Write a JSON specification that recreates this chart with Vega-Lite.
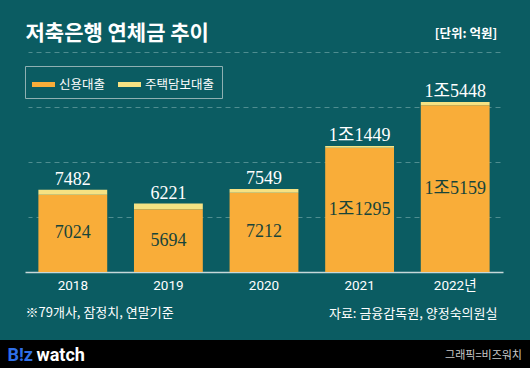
{
  "$schema": "https://vega.github.io/schema/vega-lite/v6.json",
  "width": 530,
  "height": 340,
  "autosize": {"type": "none"},
  "padding": {"left": 0, "top": 0, "right": 0, "bottom": 28},
  "background": "#000000",
  "config": {
    "view": {"fill": "#0b5c62", "stroke": null},
    "axis": {"labelFont": "Noto Sans CJK KR", "titleFont": "Noto Sans CJK KR"}
  },
  "title": {
    "text": "그래픽=비즈워치", "orient": "bottom", "anchor": "end", "frame": "group",
    "offset": -4, "dx": -8, "dy": -10, "color": "#c8c8c8", "fontSize": 11, "fontWeight": "normal",
    "font": "Noto Sans CJK KR"
  },
  "datasets": {
    "loans": [
      {"year": "2018", "type": "신용대출", "value": 7024, "label": "7024"},
      {"year": "2018", "type": "주택담보대출", "value": 458, "label": ""},
      {"year": "2019", "type": "신용대출", "value": 5694, "label": "5694"},
      {"year": "2019", "type": "주택담보대출", "value": 527, "label": ""},
      {"year": "2020", "type": "신용대출", "value": 7212, "label": "7212"},
      {"year": "2020", "type": "주택담보대출", "value": 337, "label": ""},
      {"year": "2021", "type": "신용대출", "value": 11295, "label": "1조1295"},
      {"year": "2021", "type": "주택담보대출", "value": 154, "label": ""},
      {"year": "2022", "type": "신용대출", "value": 15159, "label": "1조5159"},
      {"year": "2022", "type": "주택담보대출", "value": 289, "label": ""}
    ],
    "totals": [
      {"year": "2018", "total": 7482, "label": "7482"},
      {"year": "2019", "total": 6221, "label": "6221"},
      {"year": "2020", "total": 7549, "label": "7549"},
      {"year": "2021", "total": 11449, "label": "1조1449"},
      {"year": "2022", "total": 15448, "label": "1조5448"}
    ]
  },
  "resolve": {"axis": {"x": "independent", "y": "independent"}},
  "layer": [
    {
      "data": {"name": "loans"},
      "mark": {"type": "bar"},
      "encoding": {
        "x": {
          "field": "year", "type": "nominal", "sort": null,
          "scale": {"type": "band", "range": [25, 503], "paddingInner": 0.28, "paddingOuter": 0.14},
          "axis": {
            "orient": "bottom", "offset": -68, "ticks": false, "domain": true,
            "domainColor": "#c7d8d9", "domainWidth": 1.5, "grid": false,
            "labelColor": "#ffffff", "labelFontSize": 13.5, "labelFont": "Roboto, Noto Sans CJK KR",
            "labelPadding": 6, "labelAngle": 0,
            "labelExpr": "datum.value == '2022' ? '2022년' : datum.value",
            "title": "B!z", "titleColor": "#2f6fe8", "titleFont": "Roboto", "titleFontSize": 18,
            "titleFontWeight": "bold", "titleX": 7, "titleY": 83, "titleAlign": "left",
            "titleBaseline": "middle", "titleAngle": 0
          }
        },
        "y": {
          "field": "value", "type": "quantitative", "stack": "zero",
          "scale": {"domain": [-6182, 24727], "nice": false, "zero": false},
          "axis": {
            "orient": "left", "values": [-3727],
            "grid": false, "ticks": false, "domain": false,
            "labelExpr": "'※79개사, 잠정치, 연말기준'",
            "labelAlign": "left", "labelBaseline": "middle", "labelPadding": -25,
            "labelColor": "#ffffff", "labelFontSize": 13, "labelFlush": false, "labelOverlap": false, "labelBound": false,
            "title": "watch", "titleColor": "#ffffff", "titleFont": "Roboto", "titleFontSize": 18,
            "titleFontWeight": "bold", "titleX": 36, "titleY": 355, "titleAlign": "left",
            "titleBaseline": "middle", "titleAngle": 0
          }
        },
        "color": {
          "field": "type", "type": "nominal",
          "scale": {"domain": ["신용대출", "주택담보대출"], "range": ["#f9ad39", "#f6e283"]},
          "legend": {
            "title": null, "orient": "none", "legendX": 25, "legendY": 66, "direction": "horizontal",
            "strokeColor": "#8fb0b2", "padding": 7,
            "symbolType": "M-1,-0.22H1V0.22H-1Z", "symbolSize": 529, "symbolStrokeWidth": 0,
            "labelColor": "#ffffff", "labelFont": "Noto Sans CJK KR", "labelFontSize": 12.5,
            "labelOffset": 4, "columnPadding": 12
          }
        },
        "order": {"field": "type", "sort": "ascending"}
      }
    },
    {
      "data": {"name": "loans"},
      "transform": [{"filter": "datum.type === '신용대출'"}],
      "mark": {"type": "text", "font": "Liberation Serif, Noto Sans CJK KR", "fontSize": 18, "color": "#17443a", "baseline": "middle"},
      "encoding": {
        "x": {"field": "year", "type": "nominal", "sort": null,
              "scale": {"type": "band", "range": [25, 503], "paddingInner": 0.28, "paddingOuter": 0.14}, "axis": null},
        "y": {"field": "value", "type": "quantitative", "stack": "zero", "bandPosition": 0.5,
              "scale": {"domain": [-6182, 24727], "nice": false, "zero": false}, "axis": null},
        "detail": {"field": "type", "type": "nominal"},
        "text": {"field": "label"}
      }
    },
    {
      "data": {"name": "totals"},
      "mark": {"type": "text", "font": "Liberation Serif, Noto Sans CJK KR", "fontSize": 18, "color": "#ffffff", "baseline": "alphabetic", "dy": -5},
      "encoding": {
        "x": {
          "field": "year", "type": "nominal", "sort": null,
          "scale": {"type": "band", "range": [25, 503], "paddingInner": 0.28, "paddingOuter": 0.14},
          "axis": {
            "orient": "top", "ticks": false, "domain": false, "grid": false,
            "labelExpr": "datum.value == '2022' ? '[단위: 억원]' : ''",
            "labelAlign": "right", "labelBaseline": "middle", "labelPadding": -33, "labelOffset": 42,
            "labelColor": "#ffffff", "labelFontSize": 12.5, "labelFontWeight": "bold", "labelAngle": 0,
            "labelOverlap": false, "labelBound": false,
            "title": "저축은행 연체금 추이", "titleColor": "#ffffff", "titleFontSize": 21, "titleFontWeight": "bold",
            "titleX": 25, "titleY": 33, "titleAlign": "left", "titleBaseline": "middle", "titleAngle": 0
          }
        },
        "y": {
          "field": "total", "type": "quantitative",
          "scale": {"domain": [-6182, 24727], "nice": false, "zero": false},
          "axis": {
            "orient": "right", "offset": -30, "zindex": 0,
            "values": [5000, 10000, 15000, 20000], "domain": false, "grid": false,
            "ticks": true, "tickSize": -472, "tickColor": "#4f8d90", "tickDash": [5, 4], "tickWidth": 1,
            "labels": false,
            "title": "자료: 금융감독원, 양정숙의원실", "titleColor": "#ffffff", "titleFontSize": 13,
            "titleFontWeight": "normal",
            "titleX": -3, "titleY": 313, "titleAlign": "right", "titleBaseline": "middle", "titleAngle": 0
          }
        },
        "text": {"field": "label"}
      }
    }
  ]
}
